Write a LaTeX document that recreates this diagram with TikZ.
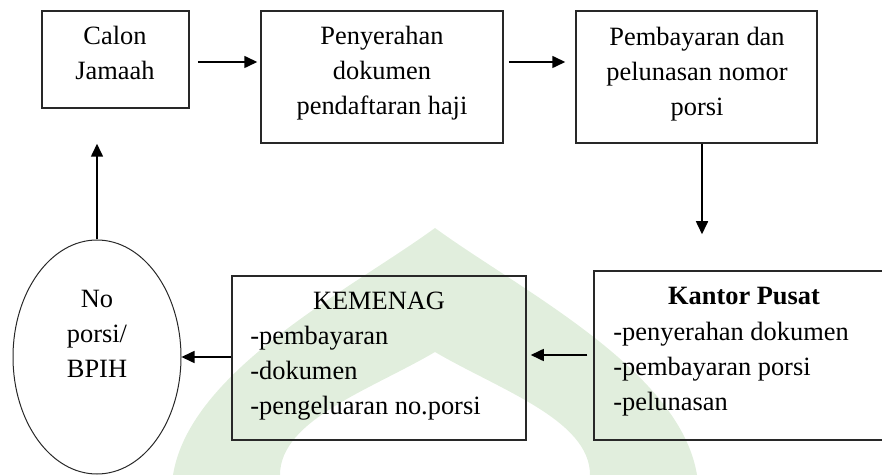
\documentclass[tikz,border=0pt]{standalone}
\usepackage{fontspec}
\setmainfont{Liberation Serif}
\usetikzlibrary{arrows.meta,shapes.geometric}
\definecolor{domegreen}{RGB}{225,238,221}
\definecolor{lineink}{RGB}{40,40,40}
\begin{document}
\begin{tikzpicture}[x=0.5pt,y=-0.5pt,
  box/.style={draw=lineink, line width=0.75pt, inner sep=0pt, rectangle},
  flow/.style={draw=black, line width=0.8pt, -{Triangle[length=6.5pt,width=6pt]}},
  txt/.style={inner sep=0pt, font=\fontsize{13.2}{17.5}\selectfont},
]
\useasboundingbox (0,0) rectangle (882,475);

% faint dome emblem in the background
\fill[domegreen] (173,475) .. controls (190,370) and (350,290) .. (435,228)
  .. controls (520,290) and (680,370) .. (697,475) -- (590,475)
  .. controls (590,420) and (500,390) .. (435,352)
  .. controls (370,390) and (280,420) .. (280,475) -- cycle;

% boxes
\node[box, minimum width=73.5pt, minimum height=48.5pt] (calon) at (115.5,59.5) {};
\node[box, minimum width=121pt, minimum height=66pt] (serah) at (382,77) {};
\node[box, minimum width=120.5pt, minimum height=66pt] (bayar) at (696.5,77) {};
\node[box, minimum width=150pt, minimum height=84.5pt] (pusat) at (744,355.5) {};
\node[box, minimum width=147pt, minimum height=82pt] (kemenag) at (379,358) {};
\node[draw=lineink, line width=0.5pt, ellipse, inner sep=0pt,
      minimum width=84pt, minimum height=117pt] (porsi) at (97,357) {};

% texts
\node[txt, anchor=base] (calon-t) at (115,45)
  {\begin{tabular}[t]{@{}c@{}}Calon\\Jamaah\end{tabular}};
\node[txt, anchor=base] (serah-t) at (382,45)
  {\begin{tabular}[t]{@{}c@{}}Penyerahan\\dokumen\\pendaftaran haji\end{tabular}};
\node[txt, anchor=base] (bayar-t) at (697,46)
  {\begin{tabular}[t]{@{}c@{}}Pembayaran dan\\pelunasan nomor\\porsi\end{tabular}};
\node[txt, anchor=base, font=\fontsize{13.2}{17.5}\selectfont\bfseries] (pusat-h) at (744,305) {Kantor Pusat};
\node[txt, anchor=base west] (pusat-t) at (613,340)
  {\begin{tabular}[t]{@{}l@{}}-penyerahan dokumen\\-pembayaran porsi\\-pelunasan\end{tabular}};
\node[txt, anchor=base] (kemenag-h) at (379,309) {KEMENAG};
\node[txt, anchor=base west] (kemenag-t) at (250,344)
  {\begin{tabular}[t]{@{}l@{}}-pembayaran\\-dokumen\\-pengeluaran no.porsi\end{tabular}};
\node[txt, anchor=base] (porsi-t) at (97,307)
  {\begin{tabular}[t]{@{}c@{}}No\\porsi/\\BPIH\end{tabular}};

% connectors
\draw[flow] ([shift={(8,2.5)}]calon.east) -- ([shift={(-3,-15)}]serah.west);
\draw[flow] ([shift={(5,-15)}]serah.east) -- ([shift={(-10,-15)}]bayar.west);
\draw[flow] ([shift={(5.5,0)}]bayar.south) -- ([shift={(-42,-36)}]pusat.north);
\draw[flow] ([shift={(-6,-0.5)}]pusat.west) -- ([shift={(4,-3)}]kemenag.east);
\draw[flow] ([shift={(0,-1)}]kemenag.west) -- (porsi.east);
\draw[flow] (porsi.north) -- ([shift={(-18.5,35)}]calon.south);
\end{tikzpicture}
\end{document}
